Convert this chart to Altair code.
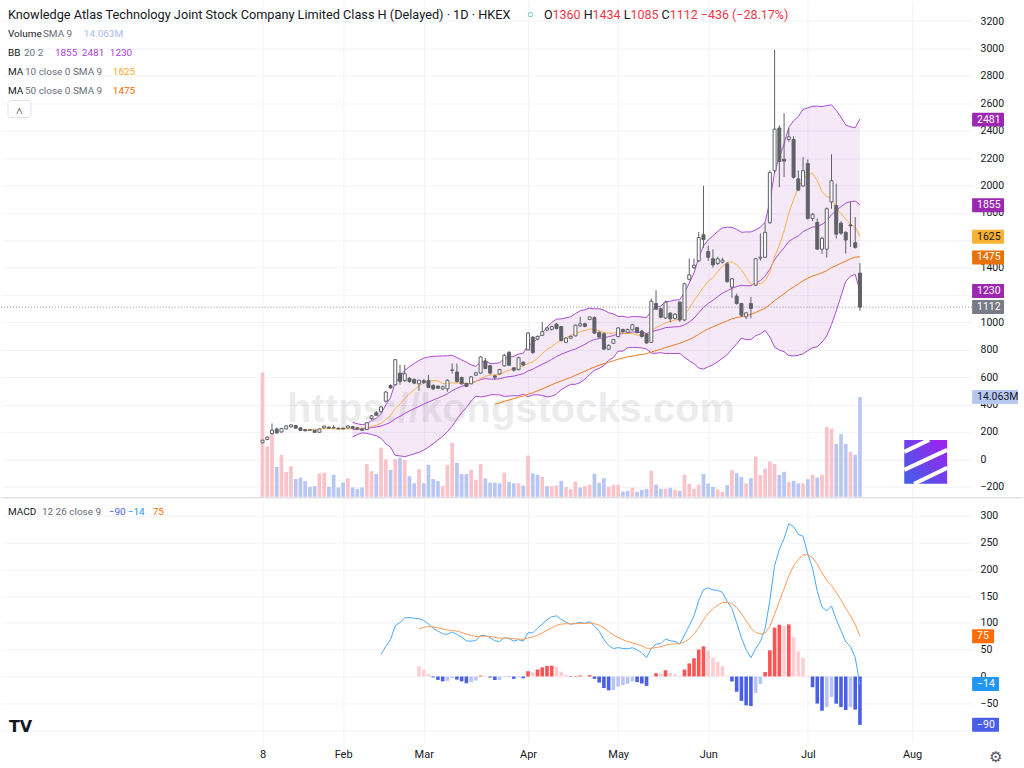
import altair as alt
import pandas as pd
import numpy as np

# ---------------- data ----------------
OPEN = [122,145,188,222,200,222,238,248,230,218,
        216,212,198,230,236,234,228,228,230,240,
        230,222,218,298,340,348,425,540,545,630,
        575,592,584,552,575,575,540,535,514,515,
        650,638,598,555,552,615,630,718,684,610,
        625,683,782,668,655,710,800,893,878,906,
        945,950,988,970,855,885,902,975,990,1022,
        1035,928,918,805,848,897,948,928,946,962,
        937,915,855,1138,1100,1032,1068,1030,1148,1018,
        1315,1400,1450,1640,1518,1465,1430,1440,1428,1258,
        1192,1138,1041,1138,1272,1470,1476,1728,2108,2420,
        2192,2336,2336,2048,1996,2160,1760,1730,1535,1535,
        1880,1855,1725,1658,1712,1582,1360]
HIGH = [143,168,262,232,230,248,256,252,235,222,
        220,216,226,246,240,251,232,230,248,242,
        236,226,272,325,352,390,500,548,732,690,
        690,600,590,582,585,616,548,540,540,585,
        700,700,605,560,608,640,755,740,690,615,
        662,770,790,675,750,715,930,900,905,1004,
        968,975,995,975,890,905,985,1041,998,1045,
        1045,935,925,840,880,965,955,955,990,968,
        945,920,1175,1236,1110,1160,1075,1068,1155,1290,
        1467,1467,1660,1998,1560,1534,1480,1470,1440,1325,
        1210,1140,1075,1187,1470,1650,1726,2110,2990,2440,
        2528,2421,2360,2110,2207,2190,1800,1760,1625,1840,
        2228,2013,1740,1665,1879,1770,1434]
LOW = [118,140,182,188,196,218,232,224,208,205,
       210,194,194,226,225,225,220,220,226,225,
       218,208,214,290,318,340,415,515,540,545,
       565,560,550,500,552,520,508,515,508,494,
       628,560,545,528,548,608,625,658,620,580,
       618,678,680,640,650,680,795,770,870,900,
       938,940,950,860,848,878,898,968,965,1015,
       915,888,798,800,845,890,925,920,940,920,
       890,845,850,1090,1030,1025,1000,1020,1005,1010,
       1305,1390,1440,1545,1450,1400,1420,1430,1290,1180,
       1130,1040,1025,1030,1265,1450,1470,1720,2090,1988,
       2061,2320,2050,1960,1990,1750,1740,1530,1500,1474,
       1830,1612,1640,1503,1551,1540,1085]
CLOSE = [140,163,213,193,226,245,252,228,212,209,
         213,197,222,243,228,229,223,224,244,228,
         222,213,268,318,322,383,492,522,728,570,
         625,568,557,578,560,525,514,520,530,578,
         653,568,552,533,602,632,748,664,630,600,
         655,760,688,652,742,690,922,780,898,932,
         960,970,955,868,886,898,980,990,972,1040,
         922,893,805,833,874,960,932,948,983,926,
         897,850,1155,1097,1038,1148,1026,1060,1018,1282,
         1348,1418,1620,1605,1476,1420,1465,1455,1298,1318,
         1138,1053,1070,1102,1465,1476,1658,2095,2412,2175,
         2178,2355,2060,1966,2108,1760,1790,1535,1615,1830,
         2035,1645,1652,1602,1706,1548,1112]
VOLUME_M = [17.5,7.1,8.9,4.2,5.9,3.5,4.3,2.5,2.7,2.2,
            1.4,1.5,3.3,3.4,1.4,3.1,1.3,2.0,2.6,1.3,
            1.1,1.3,4.6,3.6,3.2,6.9,5.3,3.8,5.3,5.5,
            5.2,2.9,1.9,3.9,1.9,4.5,2.5,2.2,1.5,4.5,
            7.6,4.8,3.2,3.2,3.8,2.4,4.6,2.6,2.0,2.0,
            1.9,3.4,2.1,1.9,1.9,1.6,5.8,3.3,3.1,2.8,
            1.5,1.5,1.6,2.25,1.36,1.08,2.16,1.31,1.50,1.69,
            3.23,1.97,2.63,1.41,1.69,1.69,0.75,0.84,1.27,0.70,
            0.98,1.08,3.66,1.73,1.13,1.13,1.27,0.98,0.84,3.09,
            1.83,1.13,1.69,3.23,1.88,1.41,1.03,0.70,1.64,3.75,
            3.33,2.81,1.88,2.63,5.67,3.09,3.94,4.97,4.64,3.09,
            3.52,2.06,2.25,1.88,1.88,2.48,3.09,2.72,3.09,9.85,
            9.61,7.45,8.81,7.45,6.33,5.91,14.063]
VOL_DIR = ("PPPBPPPBBB" "BBPPBBBBPB" "BBPPBPPBPB" "PBBPBBBBPP" "PBBBPPPBBB"
           "BPBBPBPBBP" "BPPBPPPBPP" "BBBPPPBBPB" "BBPBBPBPBP" "PPPBBBPPBP"
           "BBPBPPPPPB" "BPBBPBPBPP" "PBBBPBB")

TICK_IDX = [0, 17, 34, 56, 75, 94, 115, 137]
TICK_LABELS = ["8", "Feb", "Mar", "Apr", "May", "Jun", "Jul", "Aug"]
PRICE_TICKS = list(range(-200, 3201, 200))
PRICE_HIDDEN = [1600, 1200]          # labels fully covered by value badges
MACD_TICKS = list(range(-100, 301, 50))
MACD_HIDDEN = [-100]

TITLE = "Knowledge Atlas Technology Joint Stock Company Limited Class H (Delayed) \u00b7 1D \u00b7 HKEX"
LEG_BB = ["1855", "2481", "1230"]
LEG_MA10 = "1625"
LEG_MA50 = "1475"
LEG_VOL = "14.063M"
LEG_MACD = ["\u221290", "\u221214", "75"]
MACD_LAST = [-90, -14, 75]

# ---------------- style ----------------
FONT = "Roboto"
TXT = "#131722"
SUB = "#6a6d78"
GRID = "#f0f3fa"
WICK = "#5f6167"
DOWN = "#5f6167"
BB_COL = "#a94bd2"
MA10_COL = "#f8b24a"
MA50_COL = "#ec7a1c"
VOL_UP, VOL_DN = "#f9c3c9", "#b8c6f3"
MACD_COL, SIG_COL = "#4aa8f3", "#ff9a55"
H_RS, H_RL, H_BL, H_BS = "#ff5252", "#ffcdd2", "#b9c4f2", "#4a5ee8"
RED = "#f23645"
LEG_SIZE = 10

n = len(CLOSE)
close = pd.Series(CLOSE, dtype=float)
df = pd.DataFrame({"i": range(n), "o": OPEN, "h": HIGH, "l": LOW, "c": CLOSE,
                   "vol": VOLUME_M})
df["body_col"] = np.where(df["c"] >= df["o"], "#ffffff", DOWN)
df["vcol"] = [VOL_UP if d == "P" else VOL_DN for d in VOL_DIR]

# standard indicator definitions applied to the closes above
ma10 = close.rolling(10).mean()
ma50 = close.rolling(50).mean()
basis = close.rolling(20).mean()
dev = close.rolling(20).std(ddof=0)
upper, lower = basis + 2 * dev, basis - 2 * dev


def ema(vals, length):
    out = [np.nan] * len(vals)
    start = None
    a = 2.0 / (length + 1)
    for k, v in enumerate(vals):
        if np.isnan(v):
            continue
        if start is None:
            start = k
        cnt = k - start + 1
        if cnt == length:
            out[k] = float(np.mean(vals[start:k + 1]))
        elif cnt > length:
            out[k] = a * v + (1 - a) * out[k - 1]
    return np.array(out)


cl = np.array(CLOSE, dtype=float)
macd = ema(cl, 12) - ema(cl, 26)
signal = ema(macd, 9)
hist = macd - signal
hcols = []
for k in range(n):
    h = hist[k]
    p = hist[k - 1] if k > 0 else np.nan
    grow = (not np.isnan(p)) and p < h
    if h >= 0:
        hcols.append(H_RS if grow else H_RL)
    else:
        hcols.append(H_BL if grow else H_BS)

ind = pd.DataFrame({"i": range(n), "ma10": ma10, "ma50": ma50, "basis": basis,
                    "up": upper, "lo": lower, "macd": macd, "sig": signal,
                    "hist": hist, "hcol": hcols})
bb_df = ind.dropna(subset=["basis"])
ma10_df = ind.dropna(subset=["ma10"])
ma50_df = ind.dropna(subset=["ma50"])
macd_df = ind.dropna(subset=["macd"])
sig_df = ind.dropna(subset=["sig"])

# ---------------- scales / axes ----------------
XS = alt.Scale(domain=[-54.1, 148.6], nice=False, zero=False)
PS = alt.Scale(domain=[-273, 3349], nice=False, zero=False)
VS = alt.Scale(domain=[0, 69.9], nice=False, zero=False)
MS = alt.Scale(domain=[-123, 334], nice=False, zero=False)


def hide_expr(hidden):
    cond = " || ".join(f"datum.value == {v}" for v in hidden)
    return f"({cond}) ? '' : replace(datum.label, '-', '\u2212')"


x_top_ax = alt.Axis(values=TICK_IDX, labels=False, ticks=False, domain=False,
                    grid=True, gridColor=GRID, title=None)
lab_expr = "".join(f"datum.value == {v} ? '{s}' : " for v, s in zip(TICK_IDX, TICK_LABELS)) + "''"
x_bot_ax = alt.Axis(values=TICK_IDX, labelExpr=lab_expr, ticks=False, domain=False,
                    grid=True, gridColor=GRID, title=None, labelFont=FONT,
                    labelFontSize=11, labelColor=TXT, labelPadding=6)
p_ax = alt.Axis(orient="right", values=PRICE_TICKS, format="d",
                labelExpr=hide_expr(PRICE_HIDDEN), grid=True,
                gridColor=GRID, ticks=False, domain=False, labelPadding=8,
                labelFont=FONT, labelFontSize=10.5, labelColor=TXT, title=None)
m_ax = alt.Axis(orient="right", values=MACD_TICKS, format="d",
                labelExpr=hide_expr(MACD_HIDDEN), grid=True,
                gridColor=GRID, ticks=False, domain=False, labelPadding=8,
                labelFont=FONT, labelFontSize=10.5, labelColor=TXT, title=None)


def XT():
    return alt.X("i:Q", scale=XS, axis=x_top_ax)


def XB():
    return alt.X("i:Q", scale=XS, axis=x_bot_ax)


def PY(f):
    return alt.Y(f, scale=PS, axis=p_ax)


def MY(f):
    return alt.Y(f, scale=MS, axis=m_ax)


ONE = pd.DataFrame({"a": [0]})


def txt(x, y, s, color=TXT, size=LEG_SIZE, align="left", weight="normal", font=FONT, opacity=1.0):
    return alt.Chart(ONE).mark_text(align=align, baseline="middle", fontSize=size, font=font,
                                    fontWeight=weight, color=color, opacity=opacity).encode(
        x=alt.value(x), y=alt.value(y), text=alt.value(s))


def badge(v, label, fill, tc, w, yfun):
    d = pd.DataFrame({"v": [v], "label": [label]})
    r = alt.Chart(d).mark_rect(color=fill, yOffset=-7, y2Offset=7, cornerRadius=1).encode(
        x=alt.value(973), x2=alt.value(973 + w), y=yfun("v:Q"), y2="v:Q")
    t = alt.Chart(d).mark_text(align="left", baseline="middle", font=FONT, fontSize=10.5,
                               color=tc).encode(x=alt.value(978), y=yfun("v:Q"), text="label:N")
    return [r, t]


# ---------------- top pane ----------------
bb_area = alt.Chart(bb_df).mark_area(color="#9c27b0", opacity=0.1).encode(
    x=XT(), y=PY("lo:Q"), y2="up:Q")
bb_up = alt.Chart(bb_df).mark_line(color=BB_COL, strokeWidth=1).encode(x=XT(), y=PY("up:Q"))
bb_lo = alt.Chart(bb_df).mark_line(color=BB_COL, strokeWidth=1).encode(x=XT(), y=PY("lo:Q"))
bb_mid = alt.Chart(bb_df).mark_line(color=BB_COL, strokeWidth=1).encode(x=XT(), y=PY("basis:Q"))
ma50_l = alt.Chart(ma50_df).mark_line(color=MA50_COL, strokeWidth=1).encode(x=XT(), y=PY("ma50:Q"))
ma10_l = alt.Chart(ma10_df).mark_line(color=MA10_COL, strokeWidth=1).encode(x=XT(), y=PY("ma10:Q"))
wicks = alt.Chart(df).mark_rule(color=WICK, strokeWidth=1).encode(x=XT(), y=PY("l:Q"), y2="h:Q")
bodies = alt.Chart(df).mark_bar(size=3, stroke=WICK, strokeWidth=1).encode(
    x=XT(), y=PY("o:Q"), y2="c:Q", fill=alt.Fill("body_col:N", scale=None))
last_line = alt.Chart(pd.DataFrame({"v": [CLOSE[-1]]})).mark_rule(
    color="#8a8d96", strokeDash=[1, 2], strokeWidth=1).encode(
    x=alt.value(0), x2=alt.value(973), y=PY("v:Q"))

pb = []
pb += badge(float(LEG_BB[1]), LEG_BB[1], "#9c27b0", "white", 32, PY)
pb += badge(float(LEG_BB[0]), LEG_BB[0], "#9c27b0", "white", 32, PY)
pb += badge(float(LEG_MA10), LEG_MA10, "#f9b233", TXT, 32, PY)
pb += badge(float(LEG_MA50), LEG_MA50, "#e87205", "white", 32, PY)
pb += badge(float(LEG_BB[2]), LEG_BB[2], "#9c27b0", "white", 32, PY)
pb += badge(float(CLOSE[-1]), str(CLOSE[-1]), "#787b86", "white", 32, PY)

price_layer = alt.layer(bb_area, bb_up, bb_lo, bb_mid, ma50_l, ma10_l, last_line,
                        wicks, bodies, *pb)

vol_bars = alt.Chart(df).mark_bar(size=3.7).encode(
    x=XT(), y=alt.Y("vol:Q", scale=VS, axis=None),
    color=alt.Color("vcol:N", scale=None))
vb = badge(VOLUME_M[-1], LEG_VOL, "#b8c8f5", TXT, 46, lambda f: alt.Y(f, scale=VS, axis=None))
vol_layer = alt.layer(vol_bars, *vb)

watermark = txt(511, 410, "https://kongstocks.com", color="#000000", size=40,
                align="center", weight="bold", font="Liberation Sans", opacity=0.07)

# header: O/H/L/C letters in text colour, values in red (down bar)
o, h, l, c = OPEN[-1], HIGH[-1], LOW[-1], CLOSE[-1]
chg = c - CLOSE[-2]
pct = chg / CLOSE[-2] * 100
HS = 12.5
EM = {"O": 0.688, "H": 0.713, "L": 0.539, "C": 0.652, "d": 0.562, " ": 0.248}
hdr = []
hx = 544.0
for letter, val in [("O", o), ("H", h), ("L", l), ("C", c)]:
    hdr.append(txt(hx, 14, letter, color=TXT, size=HS))
    hx += EM[letter] * HS
    hdr.append(txt(hx, 14, str(val), color=RED, size=HS))
    hx += EM["d"] * HS * len(str(val)) + EM[" "] * HS
hdr.append(txt(hx, 14, f"\u2212{abs(chg)} (\u2212{abs(pct):.2f}%)", color=RED, size=HS))

legend = [
    txt(7, 14, TITLE, size=12.75),
    txt(527, 14, "\u25cb", color="#22ab94", size=11),
    *hdr,
    txt(7, 33, "Volume"), txt(42, 33, "SMA 9", color=SUB),
    txt(83, 33, LEG_VOL, color="#a8bcf0"),
    txt(7, 52, "BB"), txt(23, 52, "20 2", color=SUB),
    txt(54, 52, LEG_BB[0], color="#ab3fd6"),
    txt(81, 52, LEG_BB[1], color="#ab3fd6"),
    txt(109, 52, LEG_BB[2], color="#ab3fd6"),
    txt(7, 71, "MA"), txt(24, 71, "10 close 0 SMA 9", color=SUB),
    txt(112, 71, LEG_MA10, color="#f9a825"),
    txt(7, 90, "MA"), txt(24, 90, "50 close 0 SMA 9", color=SUB),
    txt(112, 90, LEG_MA50, color="#ef6c00"),
    alt.Chart(ONE).mark_rect(fill="white", stroke="#e0e3eb", cornerRadius=3).encode(
        x=alt.value(7), x2=alt.value(30), y=alt.value(100), y2=alt.value(117)),
    txt(18.5, 110, "\u02c4", size=12, align="center"),
]

logo_grad = alt.Gradient(gradient="linear",
                         stops=[alt.GradientStop(color="#a21ef0", offset=0),
                                alt.GradientStop(color="#3f62e6", offset=1)],
                         x1=1, x2=0, y1=0, y2=1)
logo = [alt.Chart(ONE).mark_rect(color=logo_grad).encode(
    x=alt.value(905), x2=alt.value(948), y=alt.value(440), y2=alt.value(484))]
for (a, b, cc, d) in [(905, 452, 930, 440), (905, 470, 948, 450), (915, 484, 948, 468)]:
    logo.append(alt.Chart(ONE).mark_rule(color="white", strokeWidth=4).encode(
        x=alt.value(a), y=alt.value(b), x2=alt.value(cc), y2=alt.value(d)))

top = alt.layer(watermark, vol_layer, price_layer, *logo, *legend).resolve_scale(
    y="independent").properties(width=973, height=497)

# ---------------- MACD pane ----------------
hist_bars = alt.Chart(sig_df).mark_bar(size=3.6).encode(
    x=XB(), y=MY("hist:Q"), color=alt.Color("hcol:N", scale=None))
macd_l = alt.Chart(macd_df).mark_line(color=MACD_COL, strokeWidth=1).encode(x=XB(), y=MY("macd:Q"))
sig_l = alt.Chart(sig_df).mark_line(color=SIG_COL, strokeWidth=1).encode(x=XB(), y=MY("sig:Q"))
mb = []
mb += badge(MACD_LAST[2], LEG_MACD[2], "#ff6d00", "white", 22, MY)
mb += badge(MACD_LAST[1], LEG_MACD[1], "#2196f3", "white", 27, MY)
mb += badge(MACD_LAST[0], LEG_MACD[0], "#4a5ee8", "white", 27, MY)

sep = alt.Chart(ONE).mark_rule(color="#d1d4dc", strokeWidth=1).encode(
    x=alt.value(0), x2=alt.value(1024), y=alt.value(0))
mleg = [
    txt(7, 14, "MACD"), txt(41, 14, "12 26 close 9", color=SUB),
    txt(108, 14, LEG_MACD[0], color="#4a5ee8"),
    txt(127, 14, LEG_MACD[1], color="#2196f3"),
    txt(152, 14, LEG_MACD[2], color="#ff6d00"),
    txt(8, 230, "TV", size=16, weight="bold", font="DejaVu Sans"),
    txt(997, 260, "\u2699", size=15, align="center", color="#50535e", font="DejaVu Sans"),
]
bottom = alt.layer(hist_bars, macd_l, sig_l, *mb, sep, *mleg).properties(width=973, height=245)

chart = alt.vconcat(top, bottom, spacing=0).properties(
    padding={"left": 0, "top": 0, "right": 0, "bottom": 0},
    background="white").configure_view(stroke=None).configure_concat(spacing=0)

chart.save("out.html", embed_options={"renderer": "svg", "actions": False})
